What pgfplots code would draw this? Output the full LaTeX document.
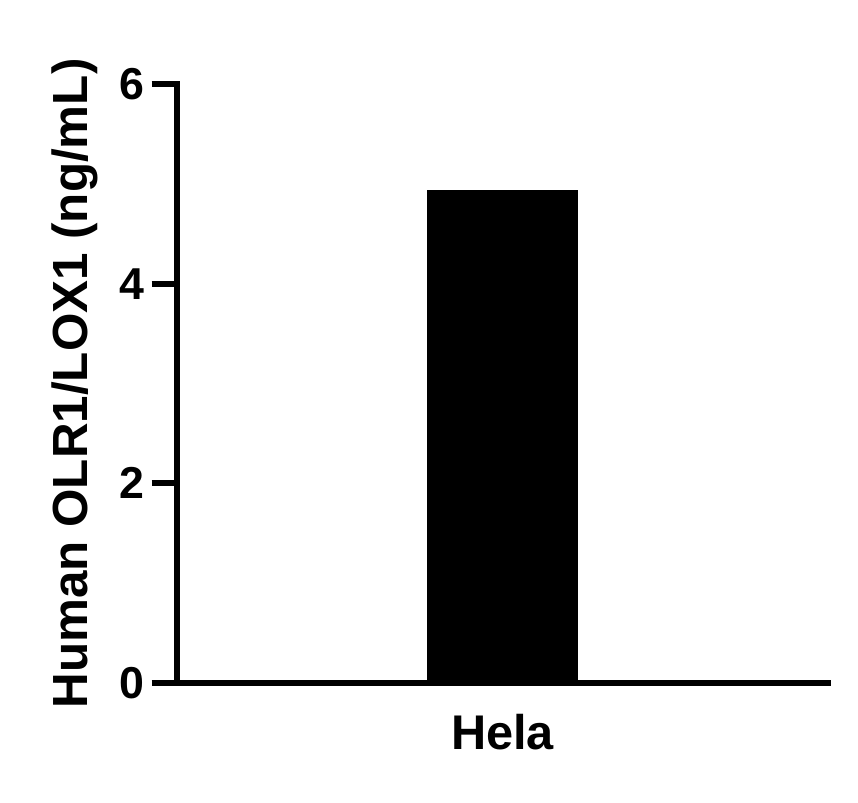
\documentclass[border=0pt]{standalone}
\usepackage{pgfplots}
\pgfplotsset{compat=1.18}
\usepackage{fontspec}
\setmainfont{Liberation Sans}

\begin{document}
\begin{tikzpicture}
\begin{axis}[
    scale only axis,
    width=488pt,
    height=449pt,
    xmin=0, xmax=2,
    ymin=0, ymax=6,
    axis x line=bottom,
    axis y line=left,
    axis line style={-, line width=4.4pt, line cap=rect},
    ytick={0,2,4,6},
    xtick={1},
    xticklabels={Hela},
    x tick style={draw=none},
    y tick style={line width=4.4pt, black},
    tick align=outside,
    major tick length=19pt,
    /pgf/number format/assume math mode=true,
    yticklabel style={font=\bfseries\fontsize{33.5}{33.5}\selectfont, xshift=-2pt},
    xticklabel style={font=\bfseries\fontsize{36.5}{36.5}\selectfont, yshift=-1pt},
    ylabel={Human OLR1/LOX1 (ng/mL)},
    every axis y label/.style={at={(axis description cs:0,0.5)}, xshift=-77pt,
        rotate=90, anchor=center, font=\bfseries\fontsize{37}{37}\selectfont},
    clip=false,
]
\addplot [ybar, bar width=113pt, fill=black, draw=none] coordinates {(1, 4.94)};
\end{axis}
\path (current axis.south west) ++(-132.75pt,-90pt) rectangle ([xshift=22.5pt, yshift=63pt]current axis.north east);
\end{tikzpicture}
\end{document}
